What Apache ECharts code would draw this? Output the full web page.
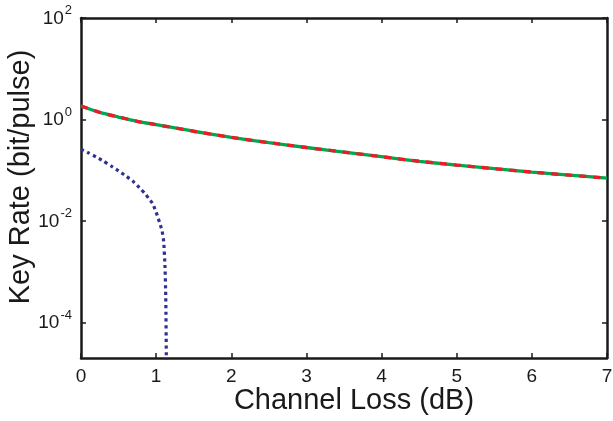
<!DOCTYPE html>
<html>
<head>
<meta charset="utf-8">
<script src="https://cdn.jsdelivr.net/npm/echarts@6/dist/echarts.min.js"></script>
<style>
html,body{margin:0;padding:0;background:#fff;}
#chart{width:613px;height:421px;}
</style>
</head>
<body>
<div id="chart"></div>
<script>
// ---- data ----
var lossX = [0, 0.25, 0.5, 0.75, 1, 1.5, 2, 2.5, 3, 3.5, 4, 4.5, 5, 5.5, 6, 6.5, 7];
var rateMain = [1.849, 1.387, 1.122, 0.923, 0.794, 0.589, 0.447, 0.351, 0.282, 0.229, 0.186, 0.151, 0.127, 0.108, 0.0923, 0.0804, 0.0702];
var lossBlue = [0, 0.1, 0.2, 0.3, 0.4, 0.5, 0.6, 0.7, 0.8, 0.85, 0.9, 0.95, 1.0, 1.05, 1.08, 1.10, 1.118, 1.128, 1.135, 1.137];
var rateBlue = [0.26, 0.221, 0.184, 0.152, 0.122, 0.0975, 0.0771, 0.0594, 0.0422, 0.0351, 0.0282, 0.0226, 0.0150, 0.0090, 0.0063, 0.0040, 0.00126, 0.000316, 0.000025, 0.000001];
var xTicks = [0, 1, 2, 3, 4, 5, 6, 7];
var yTicks = [1e-4, 1e-2, 1, 100];
var yMin = 2.02e-5, yMax = 100;

function pairs(xs, ys) { return xs.map(function (x, i) { return [x, ys[i]]; }); }

var FONT = '"Liberation Sans", Arial, Helvetica, sans-serif';
var INK = '#1a1a1a';

var chart = echarts.init(document.getElementById('chart'), null, {renderer: 'canvas'});

function yLabel(v) {
  var e = Math.round(Math.log10(v));
  return '{b|10}{s|' + e + '}';
}

var axisLineStyle = {color: INK, width: 2.5};
var option = {
  animation: false,
  backgroundColor: '#fff',
  grid: {left: 81, top: 18, right: 6, bottom: 63, containLabel: false, outerBoundsMode: 'none'},
  xAxis: [{
    type: 'value', min: 0, max: 7, interval: 1, position: 'bottom',
    axisLine: {show: true, onZero: false, lineStyle: axisLineStyle},
    axisTick: {show: true, inside: true, length: 5, lineStyle: {color: INK, width: 1.5}},
    axisLabel: {show: true, margin: 9, fontSize: 19, fontFamily: FONT, color: INK},
    splitLine: {show: false},
    name: 'Channel Loss (dB)', nameLocation: 'middle', nameGap: 28, nameMoveOverlap: false,
    nameTextStyle: {fontSize: 29, fontFamily: FONT, color: INK, padding: [0, 0, 0, 20]}
  }, {
    type: 'value', min: 0, max: 7, interval: 1, position: 'top',
    axisLine: {show: true, onZero: false, lineStyle: axisLineStyle},
    axisTick: {show: true, inside: true, length: 5, lineStyle: {color: INK, width: 1.5}},
    axisLabel: {show: false},
    splitLine: {show: false}
  }],
  yAxis: [{
    type: 'log', logBase: 10, min: yMin, max: yMax, position: 'left',
    axisLine: {show: true, onZero: false, lineStyle: axisLineStyle},
    axisTick: {show: true, inside: true, length: 5, customValues: yTicks, lineStyle: {color: INK, width: 1.5}},
    axisLabel: {
      show: true, margin: 9, customValues: yTicks, formatter: yLabel,
      rich: {
        b: {fontSize: 19, fontFamily: FONT, color: INK, verticalAlign: 'bottom', lineHeight: 20},
        s: {fontSize: 13, fontFamily: FONT, color: INK, verticalAlign: 'bottom', lineHeight: 13, padding: [0, 0, 11, 1]}
      }
    },
    splitLine: {show: false},
    minorTick: {show: false},
    name: 'Key Rate (bit/pulse)', nameLocation: 'middle', nameGap: 46, nameMoveOverlap: false,
    nameTextStyle: {fontSize: 29, fontFamily: FONT, color: INK, padding: [0, 0, 0, 22]}
  }, {
    type: 'log', logBase: 10, min: yMin, max: yMax, position: 'right',
    axisLine: {show: true, onZero: false, lineStyle: axisLineStyle},
    axisTick: {show: true, inside: true, length: 5, customValues: yTicks, lineStyle: {color: INK, width: 1.5}},
    axisLabel: {show: false},
    splitLine: {show: false}
  }],
  series: [{
    type: 'line', xAxisIndex: 0, yAxisIndex: 0, data: pairs(lossX, rateMain),
    showSymbol: false, symbol: 'none', smooth: 0.3, clip: true,
    lineStyle: {color: '#00a651', width: 3.3, type: 'solid'}
  }, {
    type: 'line', xAxisIndex: 0, yAxisIndex: 0, data: pairs(lossX, rateMain),
    showSymbol: false, symbol: 'none', smooth: 0.3, clip: true,
    lineStyle: {color: '#ed1c24', width: 3.3, type: [7, 7], cap: 'butt'}
  }, {
    type: 'line', xAxisIndex: 0, yAxisIndex: 0, data: pairs(lossBlue, rateBlue),
    showSymbol: false, symbol: 'none', smooth: 0.2, clip: true,
    lineStyle: {color: '#2e3192', width: 3.2, type: [3.2, 3.5], cap: 'butt'}
  }]
};
chart.setOption(option);
</script>
</body>
</html>
